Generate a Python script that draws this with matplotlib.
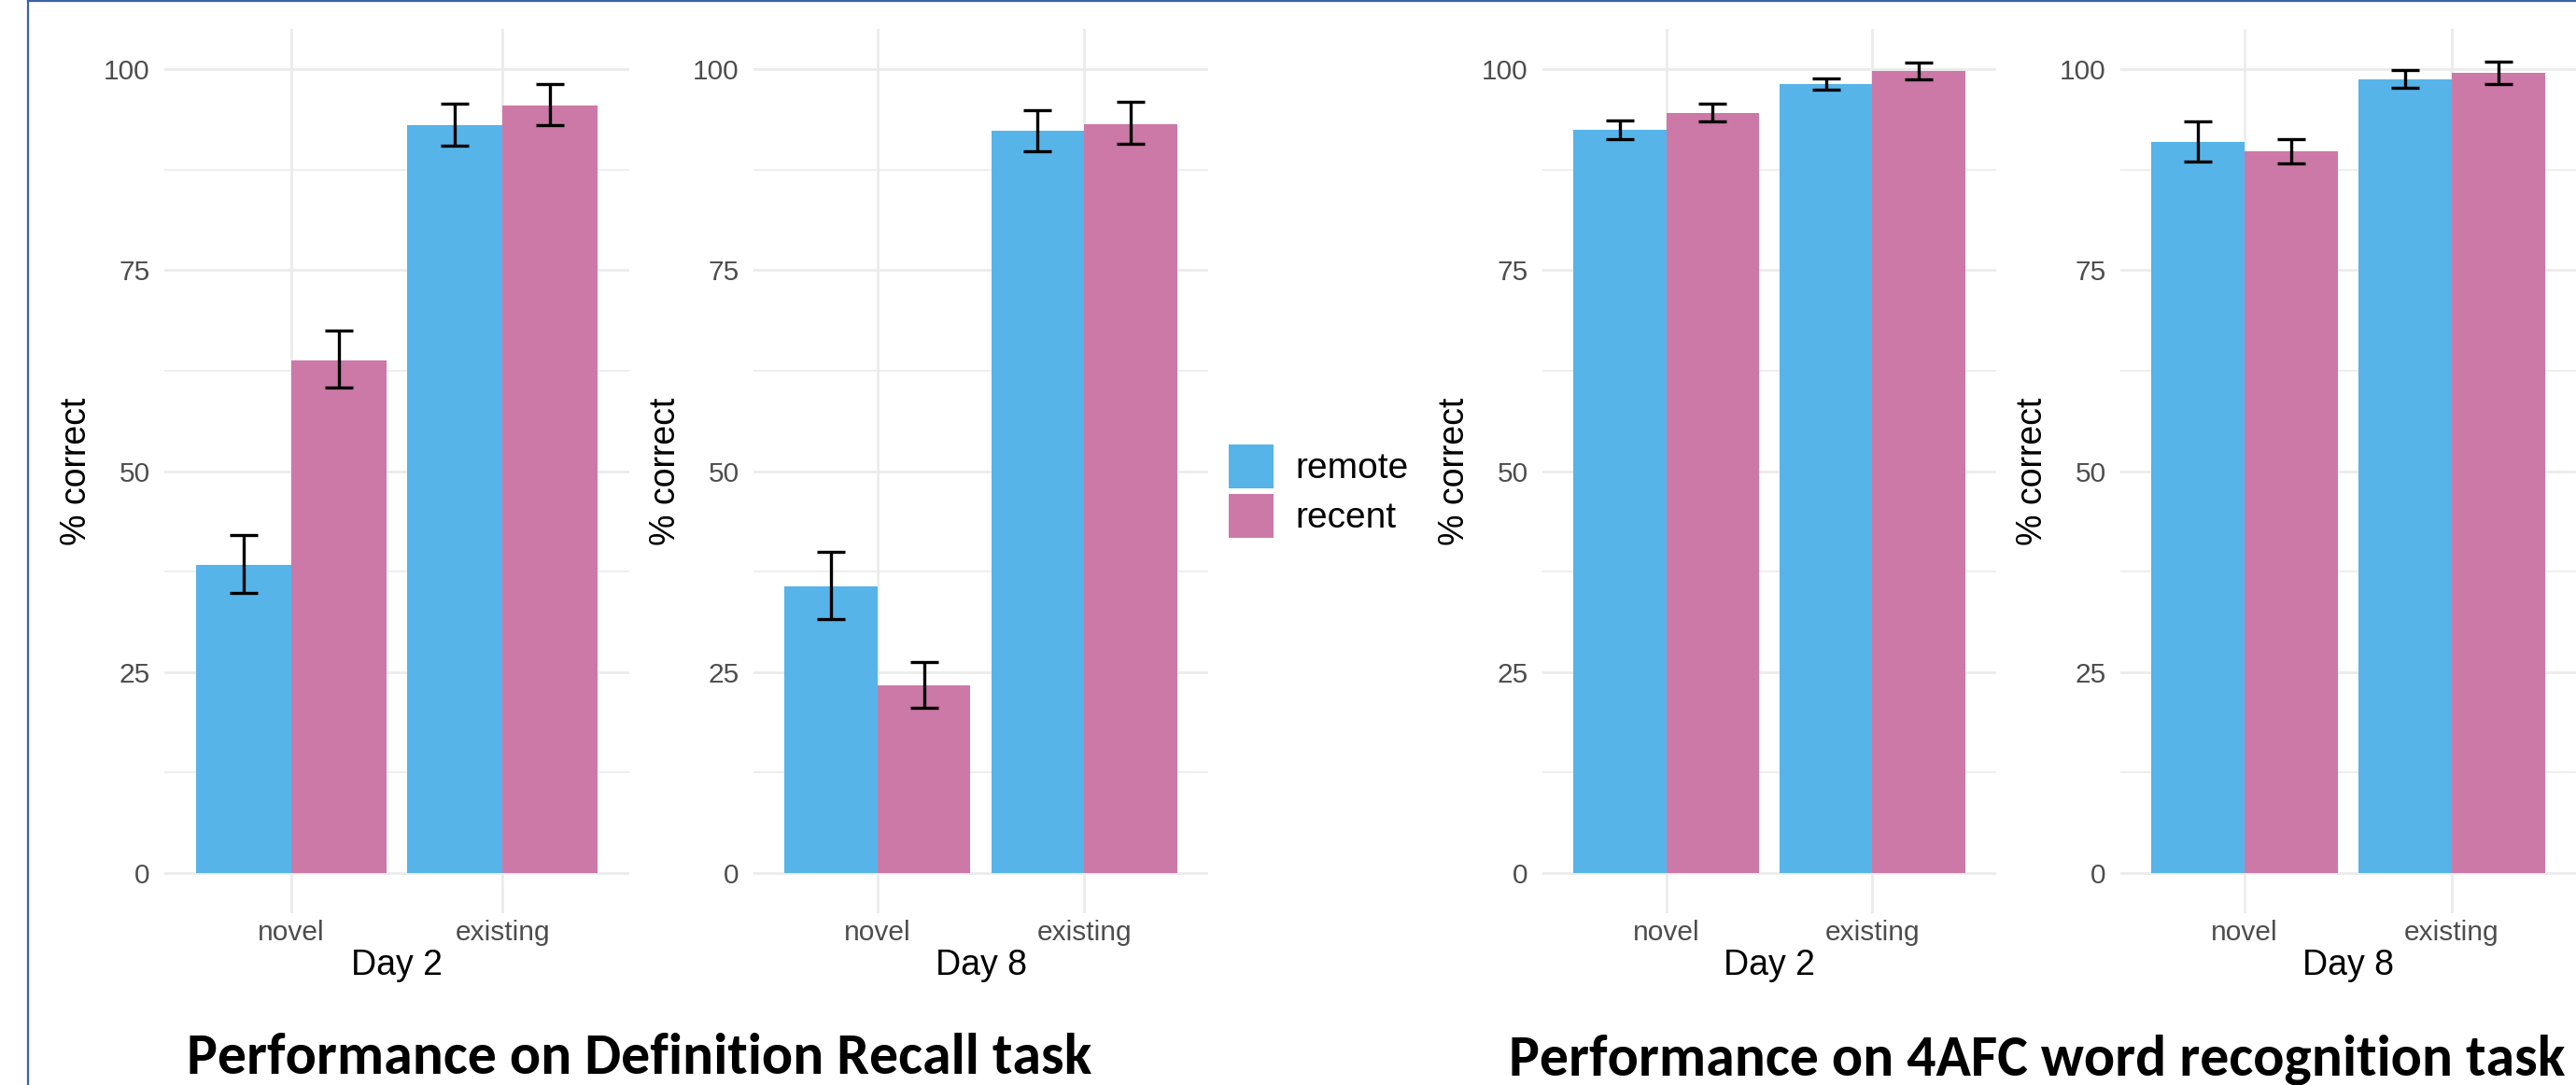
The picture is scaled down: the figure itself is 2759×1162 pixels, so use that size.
import numpy as np
import matplotlib
matplotlib.use("Agg")
import matplotlib.pyplot as plt
from matplotlib import font_manager
from matplotlib.patches import Patch
from matplotlib.lines import Line2D

W, H, DPI = 2759, 1162, 100

# data (percent correct, error bar low/high)
conditions = ["novel", "existing"]
groups = ["remote", "recent"]
day_labels = ["Day 2", "Day 8", "Day 2", "Day 8"]
titles = ["Performance on Definition Recall task",
          "Performance on 4AFC word recognition task"]

recall_d2_remote = [38.3, 93.0]
recall_d2_remote_lo = [34.8, 90.5]
recall_d2_remote_hi = [42.1, 95.7]
recall_d2_recent = [63.8, 95.5]
recall_d2_recent_lo = [60.4, 93.0]
recall_d2_recent_hi = [67.5, 98.1]

recall_d8_remote = [35.7, 92.3]
recall_d8_remote_lo = [31.6, 89.8]
recall_d8_remote_hi = [39.9, 94.9]
recall_d8_recent = [23.3, 93.2]
recall_d8_recent_lo = [20.6, 90.7]
recall_d8_recent_hi = [26.2, 95.9]

afc_d2_remote = [92.4, 98.1]
afc_d2_remote_lo = [91.25, 97.4]
afc_d2_remote_hi = [93.6, 98.8]
afc_d2_recent = [94.6, 99.8]
afc_d2_recent_lo = [93.5, 98.7]
afc_d2_recent_hi = [95.7, 100.8]

afc_d8_remote = [90.9, 98.7]
afc_d8_remote_lo = [88.5, 97.7]
afc_d8_remote_hi = [93.5, 99.9]
afc_d8_recent = [89.8, 99.5]
afc_d8_recent_lo = [88.3, 98.1]
afc_d8_recent_hi = [91.3, 100.9]

COLORS = {"remote": "#56B4E9", "recent": "#CC79A7"}
GRID = "#EBEBEB"

names = {f.name for f in font_manager.fontManager.ttflist}
if "Liberation Sans Narrow" in names:
    SANS = "Liberation Sans Narrow"
    FS_TICK, FS_LAB, FS_LEG = 24, 30, 33
else:
    SANS = "Liberation Sans"
    FS_TICK, FS_LAB, FS_LEG = 21.5, 27, 28
TITLE_FONT = "Carlito" if "Carlito" in names else "Lato"

plt.rcParams["font.family"] = SANS

# axes left/right in pixels, shared top/bottom
panel_px = [(176, 674), (807, 1294), (1652, 2138), (2271, 2759)]
top_px, bot_px = 31, 978

panels = [
    (recall_d2_remote, recall_d2_remote_lo, recall_d2_remote_hi,
     recall_d2_recent, recall_d2_recent_lo, recall_d2_recent_hi),
    (recall_d8_remote, recall_d8_remote_lo, recall_d8_remote_hi,
     recall_d8_recent, recall_d8_recent_lo, recall_d8_recent_hi),
    (afc_d2_remote, afc_d2_remote_lo, afc_d2_remote_hi,
     afc_d2_recent, afc_d2_recent_lo, afc_d2_recent_hi),
    (afc_d8_remote, afc_d8_remote_lo, afc_d8_remote_hi,
     afc_d8_recent, afc_d8_recent_lo, afc_d8_recent_hi),
]

fig = plt.figure(figsize=(W / DPI, H / DPI), dpi=DPI)
fig.patch.set_facecolor("white")

x = np.arange(1, len(conditions) + 1)
bw = 0.45

for i, (vals, (l, r)) in enumerate(zip(panels, panel_px)):
    ax = fig.add_axes([l / W, 1 - bot_px / H, (r - l) / W, (bot_px - top_px) / H])
    rem, rem_lo, rem_hi, rec, rec_lo, rec_hi = [np.array(v) for v in vals]
    for off, m, lo, hi, g in [(-bw / 2, rem, rem_lo, rem_hi, "remote"),
                              (bw / 2, rec, rec_lo, rec_hi, "recent")]:
        ax.bar(x + off, m, width=bw, color=COLORS[g], edgecolor="none", zorder=2)
        ax.errorbar(x + off, m, yerr=[m - lo, hi - m], fmt="none", ecolor="black",
                    elinewidth=2.4, capsize=10.6, capthick=2.4, zorder=3)
    ax.set_xlim(0.4, 2.6)
    ax.set_ylim(-5, 105)
    ax.set_yticks([0, 25, 50, 75, 100])
    ax.set_yticks([12.5, 37.5, 62.5, 87.5], minor=True)
    ax.set_xticks(x)
    ax.set_xticklabels(conditions)
    ax.set_axisbelow(True)
    ax.grid(True, which="major", color=GRID, lw=2.0, zorder=0)
    ax.grid(True, which="minor", axis="y", color=GRID, lw=1.2, zorder=0)
    for s in ax.spines.values():
        s.set_visible(False)
    ax.tick_params(axis="both", which="both", length=0, labelsize=FS_TICK,
                   labelcolor="#4D4D4D")
    ax.tick_params(axis="y", pad=11)
    ax.tick_params(axis="x", pad=5)
    ax.set_xlabel(day_labels[i], fontsize=FS_LAB, color="black", labelpad=2)
    ax.set_ylabel("% correct", fontsize=FS_LAB, color="black", labelpad=8)
    ax.set_facecolor("white")

handles = [Patch(facecolor=COLORS[g], edgecolor="none", label=g) for g in groups]
leg = fig.legend(handles=handles, loc="upper left", bbox_to_anchor=(1316 / W, 1 - 476 / H),
                 frameon=False, fontsize=FS_LEG, handlelength=1.23, handleheight=1.49,
                 handletextpad=0.6, labelspacing=0.15, borderpad=0, borderaxespad=0)

fig.text(200 / W, 1 - 1150 / H, titles[0], fontsize=44.5, fontweight="bold",
         family=TITLE_FONT, ha="left", va="baseline")
fig.text(1616 / W, 1 - 1152 / H, titles[1], fontsize=44.5, fontweight="bold",
         family=TITLE_FONT, ha="left", va="baseline")

# slide frame
fig.add_artist(Line2D([30 / W, 30 / W], [0, 1], color="#3A62A7", lw=1.6,
                      transform=fig.transFigure))
fig.add_artist(Line2D([30 / W, 1], [1 - 1 / H, 1 - 1 / H], color="#3A62A7", lw=1.6,
                      transform=fig.transFigure))

fig.savefig("out.png", dpi=DPI)
